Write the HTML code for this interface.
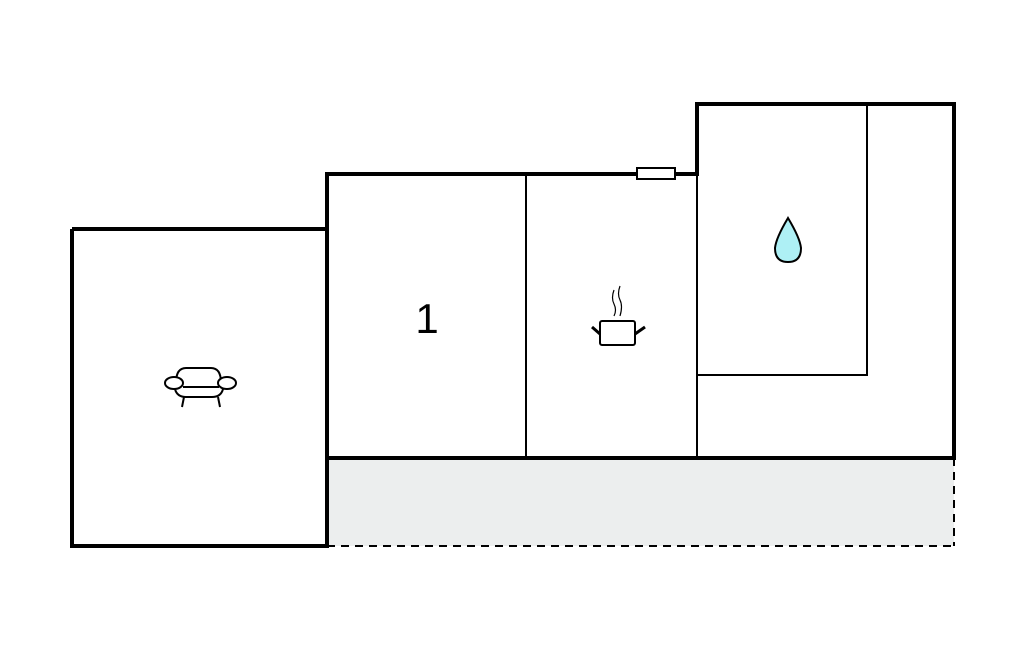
<!DOCTYPE html>
<html><head><meta charset="utf-8"><style>html,body{margin:0;padding:0;background:#fff;width:1024px;height:652px;overflow:hidden}</style></head>
<body>
<svg width="1024" height="652" viewBox="0 0 1024 652" xmlns="http://www.w3.org/2000/svg">
<rect x="327" y="458" width="627" height="88" fill="#eceeee"/>
<line x1="327" y1="546" x2="954" y2="546" stroke="#000" stroke-width="2" stroke-dasharray="8,6"/>
<line x1="954" y1="458" x2="954" y2="546" stroke="#000" stroke-width="2" stroke-dasharray="8,6"/>
<g fill="none" stroke="#000" stroke-width="2">
<line x1="526" y1="174" x2="526" y2="458"/>
<line x1="697" y1="174" x2="697" y2="458"/>
<polyline points="697,375 867,375 867,104"/>
</g>
<g fill="none" stroke="#000" stroke-width="4">
<polyline points="72,229 327,229 327,174 697,174 697,104 954,104 954,458 327,458 327,546 72,546 72,229"/>
<line x1="327" y1="229" x2="327" y2="458"/>
</g>
<rect x="637" y="168" width="38" height="11" fill="#fff" stroke="#000" stroke-width="2"/>
<text x="427" y="333" font-family="Liberation Sans, sans-serif" font-size="42" text-anchor="middle">1</text>
<g fill="none" stroke="#000" stroke-width="2">
<path d="M176 383 Q176 368 186 368 L211 368 Q221 368 221 383"/>
<ellipse cx="174" cy="383" rx="9" ry="6" fill="#fff"/>
<ellipse cx="227" cy="383" rx="9" ry="6" fill="#fff"/>
<line x1="183" y1="387" x2="219" y2="387"/>
<path d="M175 389 Q177 397 186 397 L212 397 Q221 397 223 389"/>
<line x1="184" y1="397" x2="182" y2="407"/>
<line x1="218" y1="397" x2="220" y2="407"/>
<rect x="600" y="321" width="35" height="24" rx="2"/>
<line x1="592" y1="327" x2="600" y2="334" stroke-width="3"/>
<line x1="635" y1="334" x2="645" y2="327" stroke-width="3"/>
<path d="M614 290 q-3 8 0 14 q3 6 0 12" stroke-width="1.2"/>
<path d="M620 286 q-3 8 0 14 q3 6 0 16" stroke-width="1.2"/>
</g>
<path d="M788 218 Q776 238 775 248 Q775 262 788 262 Q801 262 801 248 Q800 238 788 218 Z" fill="#aef0f5" stroke="#000" stroke-width="2"/>
</svg>
</body></html>
